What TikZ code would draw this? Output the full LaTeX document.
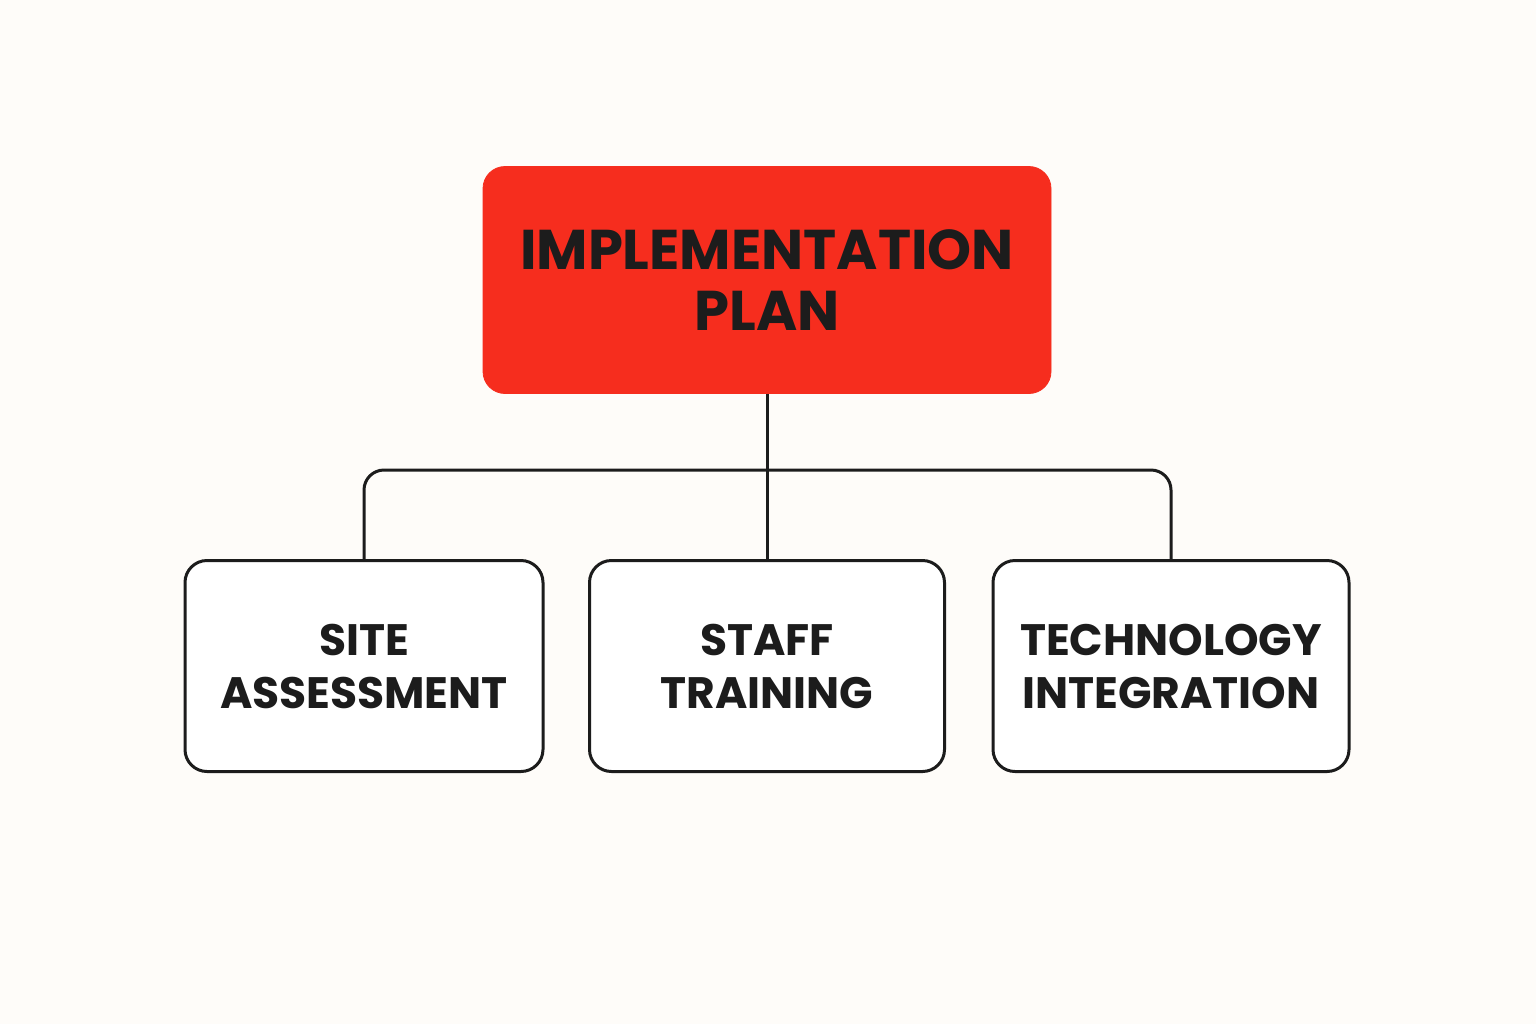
\documentclass[tikz,border=0pt]{standalone}
\usepackage{fontspec}
\setmainfont{Poppins}
\usetikzlibrary{positioning}
\definecolor{bgcol}{HTML}{FEFCF9}
\definecolor{planred}{HTML}{F62D1E}
\definecolor{inkcol}{HTML}{1C1C1C}
\tikzset{
  planbox/.style={draw=planred, fill=planred, rounded corners=11pt, minimum width=284pt,
    minimum height=113.5pt, align=center, text=inkcol, font=\fontsize{28}{30.5}\selectfont\bfseries},
  partbox/.style={draw=inkcol, line width=1.5pt, fill=white, rounded corners=11pt,
    minimum height=105.5pt, align=center, text=inkcol, font=\fontsize{22}{26.5}\selectfont\bfseries},
  link/.style={draw=inkcol, line width=1.5pt}
}
\begin{document}
\begin{tikzpicture}[x=0.5pt,y=-0.5pt]
  \fill[bgcol] (0,0) rectangle (1536,1024);
  \useasboundingbox (0,0) rectangle (1536,1024);
  \node[planbox] (plan) at (767,280) {IMPLEMENTATION\\PLAN};
  \node[partbox, minimum width=179pt] (site) at (364,666) {SITE\\ASSESSMENT};
  \node[partbox, minimum width=177.5pt] (staff) at (767,666) {STAFF\\TRAINING};
  \node[partbox, minimum width=178pt] (tech) at (1171,666) {TECHNOLOGY\\INTEGRATION};
  \coordinate (bus) at (767,470);
  \draw[link] (plan.south) -- (staff.north);
  \draw[link, rounded corners=10pt] (site.north) |- (bus) -| (tech.north);
\end{tikzpicture}
\end{document}
